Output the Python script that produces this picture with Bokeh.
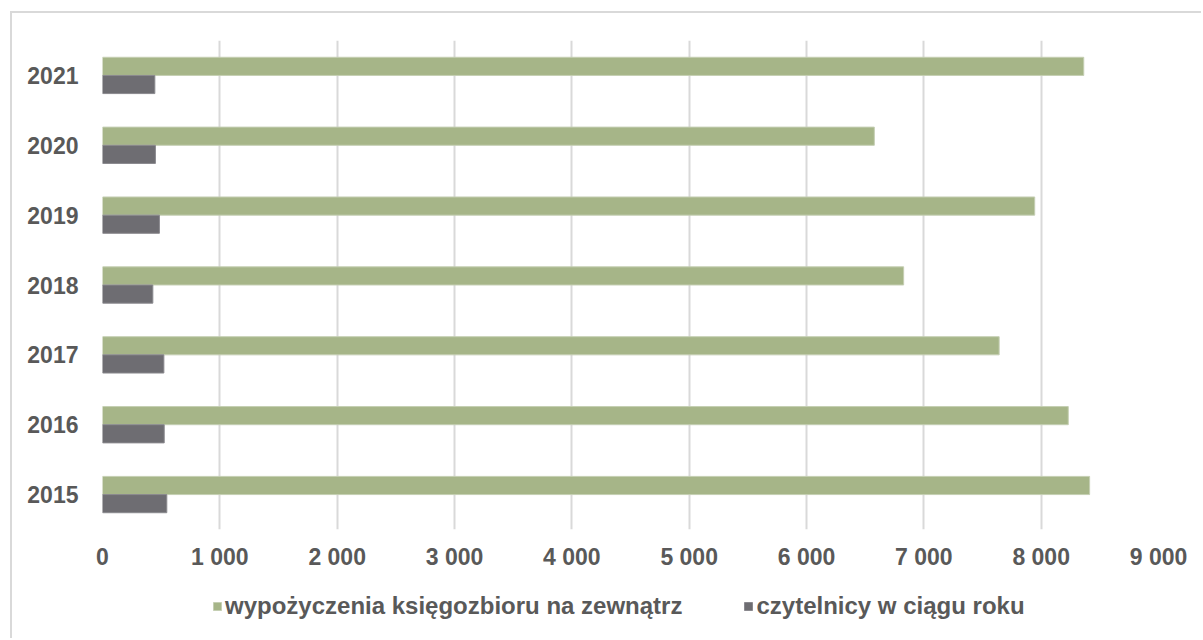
from bokeh.plotting import figure
from bokeh.layouts import column
from bokeh.models import FactorRange, Range1d, FixedTicker, Legend, LegendItem, ColumnDataSource
from bokeh.transform import dodge
from bokeh.embed import file_html
from bokeh.resources import INLINE

years = ["2015", "2016", "2017", "2018", "2019", "2020", "2021"]
wypozyczenia = [8413, 8231, 7642, 6828, 7945, 6578, 8363]
czytelnicy = [548, 526, 523, 429, 485, 451, 446]
x_ticks = [0, 1000, 2000, 3000, 4000, 5000, 6000, 7000, 8000, 9000]
x_labels = ["0", "1 000", "2 000", "3 000", "4 000", "5 000", "6 000", "7 000", "8 000", "9 000"]
series_names = ["wypożyczenia księgozbioru na zewnątrz", "czytelnicy w ciągu roku"]

GREEN = "#a6b588"
GRAY = "#6e6d72"
GREEN_EDGE = "#c5cfb3"
GRAY_EDGE = "#8a898e"
TXT = "#595959"
FONT = "Liberation Sans"
FS = "23px"
BORDER = "2px solid #d9d9d9"

# main chart
p = figure(width=1191, height=561, output_backend="svg", toolbar_location=None,
           y_range=FactorRange(*years, range_padding=0), x_range=Range1d(0, 9000),
           min_border_left=90, min_border_right=45, min_border_top=27, min_border_bottom=45)
p.margin = (11, 0, 0, 10)
p.outline_line_color = None
p.styles = {"border-top": BORDER, "border-left": BORDER}

src = dict(year=years, w=wypozyczenia, c=czytelnicy)
p.hbar(y=dodge("year", 0.13, range=p.y_range), right="w", left=0, height=0.26,
       source=src, fill_color=GREEN, line_color=GREEN_EDGE, line_width=1)
p.hbar(y=dodge("year", -0.13, range=p.y_range), right="c", left=0, height=0.26,
       source=src, fill_color=GRAY, line_color=GRAY_EDGE, line_width=1)

p.xaxis.ticker = FixedTicker(ticks=x_ticks)
p.xaxis.major_label_overrides = {t: l for t, l in zip(x_ticks, x_labels)}
for ax in (p.xaxis[0], p.yaxis[0]):
    ax.axis_line_color = None
    ax.major_tick_line_color = None
    ax.minor_tick_line_color = None
    ax.major_label_text_font = FONT
    ax.major_label_text_font_style = "bold"
    ax.major_label_text_font_size = FS
    ax.major_label_text_color = TXT
p.xaxis.major_label_standoff = 8
p.yaxis.major_label_standoff = 18

p.xgrid.grid_line_color = "#d9d9d9"
p.xgrid.grid_line_width = 2
p.ygrid.grid_line_color = None

# legend strip below the chart (swatch renderers sit outside the visible range)
lg = figure(width=1191, height=66, output_backend="svg", toolbar_location=None,
            x_axis_type=None, y_axis_type=None,
            x_range=Range1d(0, 1), y_range=Range1d(0, 1),
            min_border_left=0, min_border_right=0, min_border_top=0, min_border_bottom=0)
lg.margin = (0, 0, 0, 10)
lg.outline_line_color = None
lg.grid.grid_line_color = None
lg.styles = {"border-left": BORDER}
swatch = ColumnDataSource(dict(y=[-10], right=[0]))
g1 = lg.hbar(y="y", right="right", height=0.1, source=swatch,
             fill_color=GREEN, line_color=GREEN_EDGE)
g2 = lg.hbar(y="y", right="right", height=0.1, source=swatch,
             fill_color=GRAY, line_color=GRAY_EDGE)

legend = Legend(items=[LegendItem(label=series_names[0], renderers=[g1]),
                       LegendItem(label=series_names[1], renderers=[g2])],
                orientation="horizontal", location=(110, 18),
                glyph_width=10, glyph_height=10, label_standoff=3, spacing=61,
                padding=0, margin=0, border_line_color=None, background_fill_alpha=0,
                label_text_font=FONT, label_text_font_style="bold",
                label_text_font_size="24px", label_text_color=TXT)
lg.add_layout(legend, "center")

layout = column(p, lg, spacing=0)
open("out.html", "w").write(file_html(layout, INLINE))
